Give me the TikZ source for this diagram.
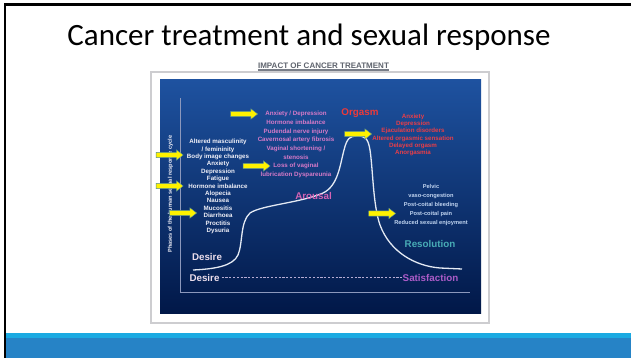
\documentclass[tikz,border=0pt]{standalone}
\usepackage{fontspec}
\setmainfont{Liberation Sans}
\newfontfamily\titlefont{Carlito}
\usetikzlibrary{shapes.arrows}
\definecolor{bandlight}{RGB}{26,170,226}
\definecolor{banddark}{RGB}{38,131,198}
\definecolor{paneltop}{RGB}{30,82,160}
\definecolor{panelmid}{RGB}{12,50,118}
\definecolor{panelbot}{RGB}{1,24,72}
\definecolor{txtwhite}{RGB}{240,240,248}
\definecolor{txtpink}{RGB}{214,122,200}
\definecolor{txtred}{RGB}{232,62,72}
\definecolor{orgred}{RGB}{236,58,58}
\definecolor{arpink}{RGB}{212,100,180}
\definecolor{resteal}{RGB}{72,172,182}
\definecolor{satpurple}{RGB}{172,92,200}
\definecolor{desirecol}{RGB}{236,222,236}
\definecolor{txtblue}{RGB}{192,212,240}
\definecolor{axiscol}{RGB}{140,152,188}
\definecolor{dashcol}{RGB}{182,172,212}
\definecolor{curvecol}{RGB}{228,234,244}
\definecolor{arrowedge}{RGB}{80,140,150}
\definecolor{impacttxt}{RGB}{95,100,110}
\definecolor{impactline}{RGB}{120,125,135}
\definecolor{framecol}{RGB}{205,205,208}
\begin{document}
\begin{tikzpicture}[x=1pt,y=-1pt,
  yarrow/.style={single arrow, fill=yellow, draw=arrowedge, line width=0.4pt,
    minimum height=27pt, inner sep=2.4pt, single arrow head extend=2.6pt,
    single arrow tip angle=75, shape border rotate=0},
  small/.style={font=\bfseries\fontsize{6.2}{7.4}\selectfont, align=center, inner sep=0pt},
  big/.style={font=\bfseries\fontsize{9.8}{11}\selectfont, inner sep=0pt}]
\useasboundingbox (0,0) rectangle (631,358);
\fill[white] (0,0) rectangle (631,358);
% bottom band
\fill[bandlight] (6,333) rectangle (631,338);
\fill[banddark] (6,338) rectangle (631,358);
% slide border
\draw[black, line width=2.5pt] (5,358) -- (5,4.5) -- (631,4.5);
% title
\node[font=\titlefont\fontsize{31}{33}\selectfont, anchor=base, inner sep=0pt] (title) at (309,46) {Cancer treatment and sexual response};
% subtitle
\node[font=\bfseries\fontsize{8}{9}\selectfont, text=impacttxt, inner sep=0pt] (impact) at (323.5,65.5) {IMPACT OF CANCER TREATMENT};
\draw[impactline, line width=1.2pt] ([yshift=-1.5pt]impact.south west) -- ([yshift=-1.5pt]impact.south east);
% frame and panel
\draw[fill=white, draw=framecol, line width=1.3pt] (151,72) rectangle (489,323);
\shade[top color=paneltop, middle color=panelmid, bottom color=panelbot] (160,80) rectangle (481,313);
% axes
\coordinate (ax0) at (180,98);
\coordinate (ax1) at (180,292);
\coordinate (ax2) at (470,292);
\draw[axiscol, line width=1pt] (ax0) -- (ax1) -- (ax2);
\node[font=\bfseries\fontsize{5.6}{6}\selectfont, text=txtwhite, rotate=90, inner sep=0pt] (phases) at (170.5,194) {Phases of the human sexual response cycle};
% curve
\draw[curvecol, line width=1.3pt]
  (193,270) .. controls (215,269) and (233,266) .. (238,255)
  .. controls (243,243) and (240,222) .. (250,213)
  .. controls (262,205) and (300,203) .. (323,193)
  .. controls (338,186) and (340,165) .. (344,150)
  .. controls (347,138) and (350,136) .. (357,136)
  .. controls (365,136) and (368,138) .. (370,150)
  .. controls (373,170) and (373,205) .. (380,225)
  .. controls (390,252) and (415,266) .. (440,268)
  -- (462,269);
% phase labels
\node[big, text=desirecol] (desire1) at (207,257) {Desire};
\node[big, text=desirecol] (desire2) at (204.5,277.5) {Desire};
\node[big, text=satpurple] (sat) at (430.5,277.5) {Satisfaction};
\draw[dashcol, line width=0.9pt, dash pattern=on 2.2pt off 1.6pt] ([xshift=2pt]desire2.east) -- ([xshift=-1pt]sat.west);
\node[big, text=arpink] (arousal) at (313.5,195.5) {Arousal};
\node[big, text=orgred] (orgasm) at (360,113) {Orgasm};
\node[big, text=resteal] (resol) at (430,244) {Resolution};
% text blocks
\node[small, text=txtwhite] (left) at (218,186.5) {Altered masculinity\\/ femininity\\Body image changes\\Anxiety\\Depression\\Fatigue\\Hormone imbalance\\Alopecia\\Nausea\\Mucositis\\Diarrhoea\\Proctitis\\Dysuria};
\node[small, text=txtpink, font=\bfseries\fontsize{6.2}{8.7}\selectfont] (mid) at (296,144.5) {Anxiety / Depression\\Hormone imbalance\\Pudendal nerve injury\\Cavernosal artery fibrosis\\Vaginal shortening /\\stenosis\\Loss of vaginal\\lubrication Dyspareunia};
\node[small, text=txtred, font=\bfseries\fontsize{6.2}{7.2}\selectfont] (right) at (413,135) {Anxiety\\Depression\\Ejaculation disorders\\Altered orgasmic sensation\\Delayed orgasm\\Anorgasmia};
\node[small, text=txtblue, font=\bfseries\fontsize{5.7}{9}\selectfont] (res) at (431,205) {Pelvic\\vaso-congestion\\Post-coital bleeding\\Post-coital pain\\Reduced sexual enjoyment};
% arrows
\node[yarrow] (a1) at (242.5,114) {};
\node[yarrow] (a2) at (168,155) {};
\node[yarrow] (a3) at (168,186) {};
\node[yarrow] (a4) at (181.5,213) {};
\node[yarrow] (a5) at (255,166) {};
\node[yarrow] (a6) at (356.5,134) {};
\node[yarrow] (a7) at (380.5,213.5) {};
\end{tikzpicture}
\end{document}
